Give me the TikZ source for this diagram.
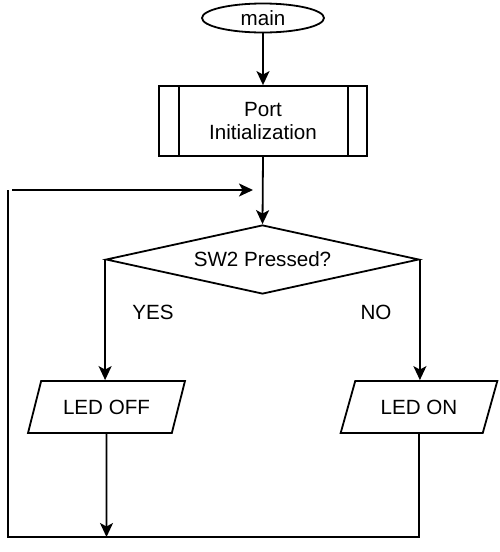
\documentclass[tikz,border=0pt]{standalone}
\usepackage{fontspec}
\setmainfont{Liberation Sans}
\usetikzlibrary{shapes.geometric,arrows.meta}
\begin{document}
\begin{tikzpicture}[x=1pt,y=-1pt,
  every node/.style={font=\fontsize{20.6}{23}\selectfont, inner sep=0pt},
  ln/.style={line width=1.8pt},
  arr/.style={ln,-{Stealth[length=14pt,width=13pt,inset=3.5pt]}},
  term/.style={draw,ln,ellipse,minimum width=122pt,minimum height=29pt},
  proc/.style={draw,ln,rectangle,minimum width=208pt,minimum height=70pt,align=center},
  dec/.style={draw,ln,diamond,shape aspect=4.5,minimum width=313pt,minimum height=69pt},
  io/.style={draw,ln,trapezium,trapezium left angle=59,trapezium right angle=121,trapezium stretches=true,minimum width=157pt,minimum height=52pt}]
\useasboundingbox (0,0) rectangle (499,552);
\node[term] (main) at (263,18) {main};
\node[proc] (port) at (263,121) {Port\\Initialization};
\draw[ln] ([xshift=21pt]port.north west) -- ([xshift=21pt]port.south west);
\draw[ln] ([xshift=-20pt]port.north east) -- ([xshift=-20pt]port.south east);
\node[dec] (dia) at (262.5,259.5) {SW2 Pressed?};
\node[io] (off) at (106.5,407) {LED OFF};
\node[io] (on) at (419,407) {LED ON};
\node (yes) at (153,312) {YES};
\node (no) at (376,312) {NO};
\coordinate (bl) at (8,537);
\coordinate (br) at (419,537);
\coordinate (tl) at (8,190);
\coordinate (ls) at (12,190);
\coordinate (le) at (253,190);
\coordinate (offend) at (106.5,537);
\draw[arr] (main.south) -- (port.north);
\draw[arr] (port.south) -- (dia.north);
\draw[arr] (dia.west) -- (dia.west |- off.north);
\draw[arr] (dia.east) -- (dia.east |- on.north);
\draw[arr] (off.south) -- (offend);
\draw[ln] (on.south) -- (br) -- (bl) -- (tl);
\draw[arr] (ls) -- (le);
\end{tikzpicture}
\end{document}
